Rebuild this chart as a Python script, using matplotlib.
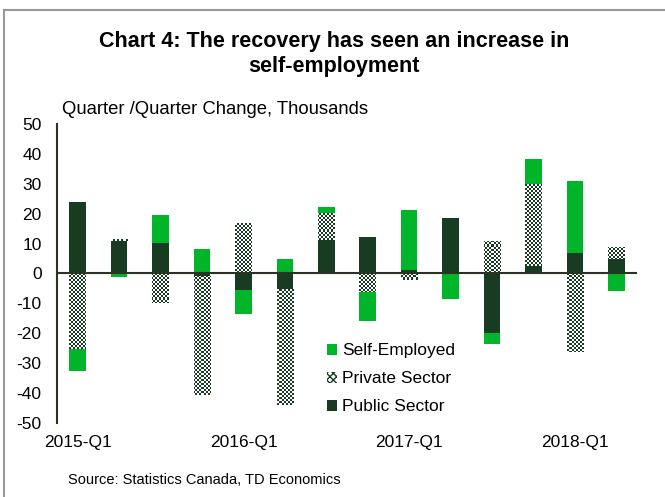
import numpy as np
import matplotlib
matplotlib.use("Agg")
from matplotlib import pyplot as plt
from matplotlib.patches import Patch
from matplotlib.lines import Line2D
from matplotlib.colors import ListedColormap

plt.rcParams['font.family'] = ['Liberation Sans', 'DejaVu Sans']

quarters = ['2015-Q1', '2015-Q2', '2015-Q3', '2015-Q4',
            '2016-Q1', '2016-Q2', '2016-Q3', '2016-Q4',
            '2017-Q1', '2017-Q2', '2017-Q3', '2017-Q4',
            '2018-Q1', '2018-Q2']
public = [24.0, 10.8, 10.1, -0.7, -5.4, -5.1, 11.2, 12.2, 1.3, 18.5, -19.9, 2.5, 6.7, 5.0]
private = [-25.3, 0.8, -9.8, -39.9, 17.0, -38.9, 8.9, -6.3, -2.1, 0.0, 10.8, 27.4, -26.3, 4.0]
self_emp = [-7.3, -1.1, 9.4, 8.3, -8.0, 5.0, 2.3, -9.5, 19.8, -8.4, -3.6, 8.4, 24.2, -5.9]
yticks = [50, 40, 30, 20, 10, 0, -10, -20, -30, -40, -50]
xlabels_shown = ['2015-Q1', '2016-Q1', '2017-Q1', '2018-Q1']

DARK = '#183c22'
BRIGHT = '#00b52a'


def main():
    fig = plt.figure(figsize=(6.65, 4.97), dpi=100)
    ax = fig.add_axes([0.0857, 0.149, 0.8723, 0.6015])

    x = np.arange(len(quarters))
    width = 0.4
    pos = np.zeros(len(x))
    neg = np.zeros(len(x))

    def stack(vals):
        vals = np.asarray(vals, dtype=float)
        bottom = np.where(vals >= 0, pos, neg)
        pos[:] += np.clip(vals, 0, None)
        neg[:] += np.clip(vals, None, 0)
        return vals, bottom

    v, b = stack(public)
    ax.bar(x, v, width, bottom=b, color=DARK, linewidth=0, zorder=2)

    # private sector gets a fine checkerboard fill, clipped to each bar
    v, b = stack(private)
    pbars = ax.bar(x, v, width, bottom=b, facecolor='none', linewidth=0, zorder=2)
    xlim = (-0.5, len(x) - 0.5)
    ylim = (-50, 50)
    rows, cols = 150, 290
    chk = (np.add.outer(np.arange(rows), np.arange(cols)) % 2).astype(float)
    cmap = ListedColormap(['white', DARK])
    for rect in pbars:
        im = ax.imshow(chk, extent=(xlim[0], xlim[1], ylim[0], ylim[1]),
                       cmap=cmap, interpolation='nearest', aspect='auto',
                       zorder=2, origin='lower')
        im.set_clip_path(rect)

    v, b = stack(self_emp)
    ax.bar(x, v, width, bottom=b, color=BRIGHT, linewidth=0, zorder=2)

    ax.axhline(0, color='#2b3321', linewidth=1.5, zorder=3)

    ax.set_xlim(xlim)
    ax.set_ylim(ylim)
    ax.set_yticks(yticks)
    ax.set_yticklabels([str(t) for t in yticks], fontsize=12.5)
    ax.set_xticks([quarters.index(q) for q in xlabels_shown])
    ax.set_xticklabels(xlabels_shown, fontsize=12.5)
    ax.tick_params(axis='x', length=0, pad=9)
    ax.tick_params(axis='y', length=0, pad=11)
    for s in ['top', 'right', 'bottom']:
        ax.spines[s].set_visible(False)
    ax.spines['left'].set_color('#2b3321')
    ax.spines['left'].set_linewidth(1.5)

    handles = [Patch(facecolor=BRIGHT, linewidth=0),
               Patch(facecolor='white', edgecolor=DARK, hatch='xxxxx', linewidth=0),
               Patch(facecolor=DARK, linewidth=0)]
    ax.legend(handles, ['Self-Employed', 'Private Sector', 'Public Sector'],
              loc='upper left', bbox_to_anchor=(0.453, 0.29), frameon=False,
              fontsize=12.5, handlelength=0.6, handleheight=0.6,
              handletextpad=0.3, labelspacing=0.75, borderaxespad=0)

    fig.text(0.502, 0.891, 'Chart 4: The recovery has seen an increase in\nself-employment',
             ha='center', va='center', fontsize=15.5, fontweight='bold',
             linespacing=1.25)
    fig.text(0.093, 0.779, 'Quarter /Quarter Change, Thousands', ha='left',
             va='center', fontsize=13.3)
    fig.text(0.102, 0.034, 'Source: Statistics Canada, TD Economics', ha='left',
             va='center', fontsize=10.5)

    # frame around the figure
    fig.add_artist(Line2D([0.006, 1.0], [0.98, 0.98], color='#999999', lw=1.5))
    fig.add_artist(Line2D([0.006, 0.006], [0.0, 0.98], color='#999999', lw=1.5))

    fig.savefig('out.png', dpi=100)


if __name__ == "__main__":
    main()
